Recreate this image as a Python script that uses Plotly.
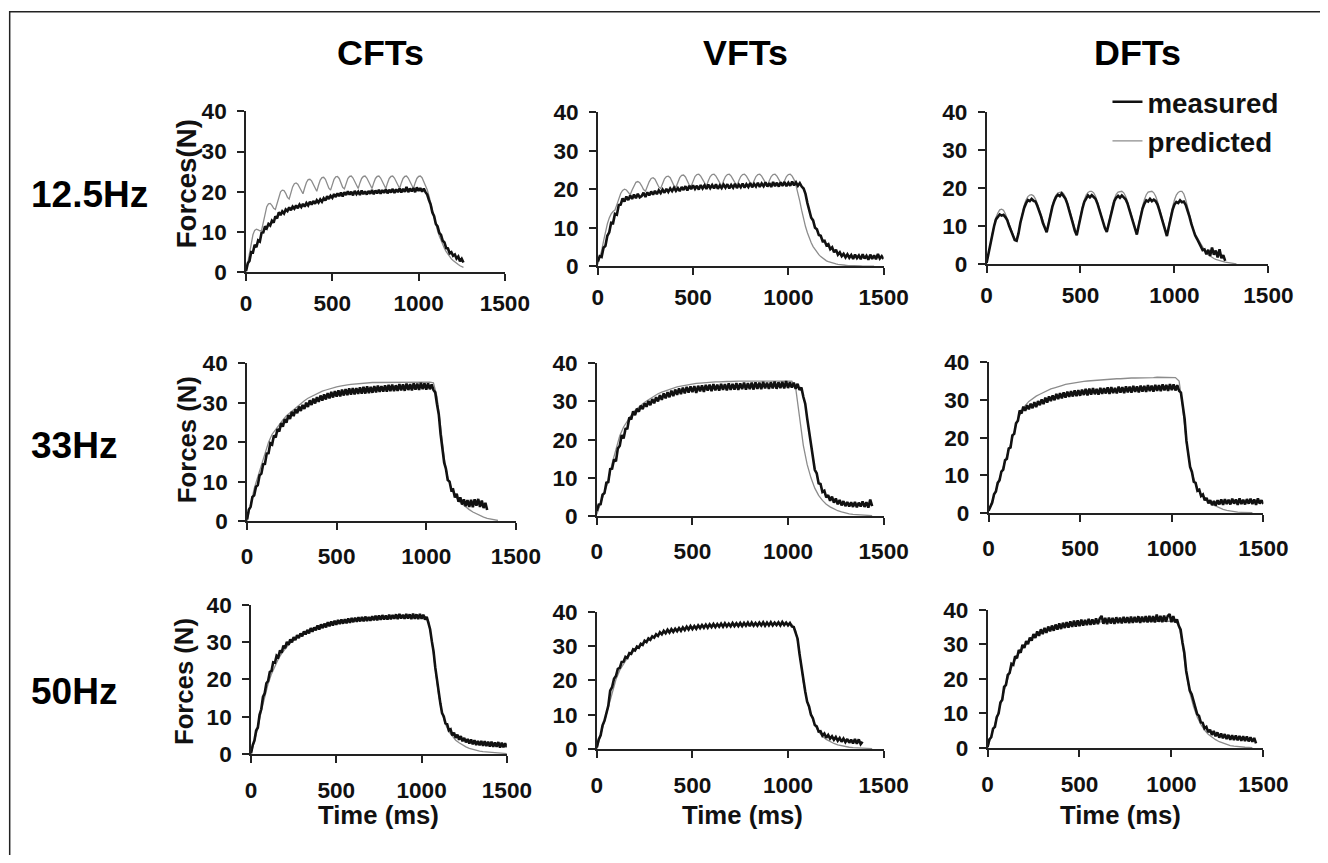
import plotly.graph_objects as go

FONT = "Liberation Sans, Arial, Helvetica, sans-serif"
PAGE_W, PAGE_H = 1328, 863
BODY_MARGIN = 8                       # default page margin around the plot div
W, H = PAGE_W - 2 * BODY_MARGIN, PAGE_H - 2 * BODY_MARGIN
# observed photo mapping (picture px = S * page px + O); positions below are given
# in picture pixels and converted back to page pixels
SX, OX = 0.977, 5.0
SY, OY = 0.971, 11.9
FS = 1 / 0.974

# ---------------- data (forces in N) ----------------
MEAS_STEP_MS = 10          # sampling of the measured traces
PRED_STEP_12HZ_MS = 10     # sampling of the 12.5 Hz predicted traces
PRED_STEP_MS = 20          # sampling of the other predicted traces

cft_12_5_measured = [
    0.3, 2.2, 2.8, 5.0, 4.9, 6.8, 6.2, 7.9, 7.6, 9.8,
    9.9, 11.4, 10.9, 12.0, 11.6, 12.8, 12.3, 13.9, 13.4, 14.9,
    14.2, 15.1, 14.6, 15.6, 15.2, 16.1, 15.4, 16.3, 15.8, 16.6,
    15.9, 16.8, 16.2, 17.0, 16.3, 17.2, 16.6, 17.5, 16.8, 17.7,
    17.0, 17.9, 17.3, 18.1, 17.5, 18.4, 17.8, 18.9, 18.2, 19.0,
    18.5, 19.4, 18.7, 19.6, 18.9, 19.8, 18.8, 19.9, 19.2, 20.1,
    19.3, 20.0, 19.1, 20.2, 19.4, 20.0, 19.2, 20.3, 19.4, 20.1,
    19.3, 20.2, 19.5, 20.4, 19.4, 20.3, 19.6, 20.5, 19.5, 20.4,
    19.7, 20.6, 19.6, 20.5, 19.8, 20.7, 19.7, 20.6, 19.9, 20.8,
    19.8, 20.7, 20.0, 21.2, 19.9, 20.8, 20.1, 20.9, 19.9, 21.1,
    20.2, 20.9, 20.0, 20.8, 19.9, 19.3, 17.9, 16.8, 14.8, 13.9,
    12.0, 11.4, 9.8, 9.3, 7.8, 7.4, 6.0, 5.9, 4.7, 5.0,
    4.1, 4.4, 3.4, 3.9, 2.7, 3.3, 2.4,
]
cft_12_5_predicted = [
    0.0, 2.5, 5.0, 7.5, 9.3, 10.4, 10.7, 10.5, 10.3, 10.4,
    12.5, 14.8, 16.3, 17.0, 17.1, 16.6, 15.9, 15.6, 17.3, 19.0,
    20.0, 20.4, 20.3, 19.6, 18.6, 18.2, 19.8, 21.2, 22.0, 22.2,
    21.9, 21.1, 20.0, 19.5, 21.0, 22.3, 23.0, 23.1, 22.7, 21.8,
    20.6, 20.1, 21.6, 22.9, 23.5, 23.6, 23.1, 22.1, 20.9, 20.4,
    21.9, 23.1, 23.7, 23.8, 23.3, 22.3, 21.1, 20.7, 22.2, 23.3,
    23.8, 23.9, 23.4, 22.5, 21.3, 20.8, 22.2, 23.3, 23.8, 23.9,
    23.4, 22.5, 21.3, 20.8, 22.2, 23.3, 23.8, 23.9, 23.4, 22.5,
    21.3, 20.8, 22.2, 23.3, 23.8, 23.9, 23.4, 22.5, 21.3, 20.8,
    22.2, 23.3, 23.8, 23.9, 23.4, 22.5, 21.3, 20.8, 22.2, 23.3,
    23.8, 23.9, 23.5, 22.6, 21.3, 20.5, 19.0, 17.2, 15.3, 13.5,
    11.8, 10.3, 9.0, 7.8, 6.8, 5.9, 5.1, 4.4, 3.8, 3.3,
    2.9, 2.5, 2.2, 1.9, 1.6, 1.4, 1.2,
]

vft_12_5_measured = [
    1.2, 2.6, 2.4, 4.8, 5.3, 7.9, 8.8, 11.3, 11.2, 13.6,
    13.4, 15.9, 16.0, 17.6, 16.8, 18.1, 17.2, 18.4, 17.5, 18.6,
    17.7, 18.8, 17.9, 18.2, 19.1, 18.0, 19.2, 18.4, 19.4, 18.6,
    19.6, 18.7, 19.7, 19.0, 19.9, 19.1, 20.1, 19.3, 20.2, 19.5,
    20.4, 19.6, 20.3, 19.5, 20.6, 19.8, 20.8, 19.7, 20.9, 20.0,
    21.0, 20.1, 20.9, 19.9, 21.1, 20.2, 21.0, 20.1, 21.2, 20.3,
    21.1, 20.2, 21.3, 20.1, 21.0, 20.3, 21.2, 20.4, 21.3, 20.2,
    21.1, 20.4, 21.4, 20.3, 21.2, 20.5, 21.5, 20.4, 21.3, 20.6,
    21.6, 20.5, 21.4, 20.7, 21.7, 20.6, 21.5, 20.8, 21.8, 20.7,
    21.6, 20.6, 21.9, 20.8, 21.7, 20.7, 21.8, 20.9, 21.9, 20.8,
    21.7, 20.9, 22.0, 21.0, 21.8, 20.9, 21.6, 20.7, 20.2, 18.8,
    16.4, 14.8, 12.6, 11.9, 10.0, 9.6, 8.1, 7.9, 6.5, 6.6,
    5.4, 5.7, 4.4, 4.9, 3.6, 4.3, 3.0, 3.6, 2.6, 3.2,
    2.3, 3.1, 2.2, 2.9, 1.9, 3.0, 2.1, 2.8, 1.8, 3.1,
    2.0, 2.7, 1.7, 3.0, 1.9, 2.8, 1.8, 3.2, 2.0, 2.6,
    1.9,
]
vft_12_5_predicted = [
    0.5, 2.0, 4.0, 6.5, 9.0, 11.0, 12.5, 13.6, 14.2, 14.6,
    16.0, 17.6, 18.9, 19.7, 20.0, 19.8, 19.2, 18.6, 19.8, 21.0,
    21.8, 22.0, 21.7, 20.9, 19.9, 19.5, 20.8, 22.0, 22.8, 23.0,
    22.6, 21.7, 20.6, 20.2, 21.5, 22.7, 23.3, 23.4, 23.0, 22.0,
    20.9, 20.5, 21.9, 23.0, 23.6, 23.7, 23.2, 22.2, 21.1, 20.8,
    22.2, 23.3, 23.8, 23.9, 23.4, 22.5, 21.3, 20.8, 22.2, 23.3,
    23.8, 23.9, 23.4, 22.5, 21.3, 20.8, 22.2, 23.3, 23.8, 23.9,
    23.4, 22.5, 21.3, 20.8, 22.2, 23.3, 23.8, 23.9, 23.4, 22.5,
    21.3, 20.8, 22.2, 23.3, 23.8, 23.9, 23.4, 22.5, 21.3, 20.8,
    22.2, 23.3, 23.8, 23.9, 23.4, 22.5, 21.3, 20.8, 22.2, 23.3,
    23.8, 23.9, 23.4, 22.5, 21.0, 19.2, 16.9, 14.5, 12.2, 10.3,
    8.7, 7.3, 6.1, 5.1, 4.3, 3.6, 3.0, 2.5, 2.1, 1.7,
    1.4, 1.2, 1.0, 0.8, 0.7, 0.6, 0.5, 0.4, 0.35, 0.3,
    0.25, 0.2, 0.2, 0.15, 0.1, 0.1, 0.1, 0.05, 0.05, 0.0,
    0.0, 0.0, 0.0, 0.0, 0.0, 0.0,
]

dft_12_5_measured = [
    0.3, 2.8, 4.6, 7.9, 10.0, 11.8, 12.6, 13.1, 12.8, 13.0, 12.4, 11.6, 10.1, 8.8, 7.6, 6.4, 6.2,
    8.1, 10.9, 13.0, 14.8, 16.0, 16.9, 16.6, 17.2, 16.7, 16.5, 15.4, 14.1, 12.6, 10.8, 9.3, 8.4,
    10.6, 13.0, 15.1, 16.6, 17.7, 18.3, 17.9, 18.6, 18.0, 17.2, 15.9, 14.3, 12.5, 10.6, 8.8, 7.6,
    10.0, 12.5, 14.6, 16.4, 17.4, 18.1, 17.6, 18.2, 17.7, 17.2, 16.0, 14.4, 12.6, 10.9, 9.5, 8.5,
    10.7, 13.0, 15.0, 16.6, 17.5, 18.0, 17.5, 18.1, 17.6, 17.1, 16.0, 14.3, 12.5, 10.7, 9.0, 7.8,
    10.2, 12.6, 14.6, 15.9, 16.8, 16.5, 17.2, 16.6, 17.0, 16.6, 15.7, 14.2, 12.4, 10.5, 8.8, 7.4,
    9.8, 12.2, 14.3, 15.7, 16.4, 16.1, 16.8, 16.3, 16.5, 15.6, 14.3, 12.5, 10.6, 9.0, 7.6, 6.7,
    5.6, 4.9, 3.7, 3.9, 2.6, 3.8, 2.2, 4.4, 2.5, 3.6, 1.8, 3.9, 1.6, 2.4, 0.9,
]
dft_12_5_predicted = [
    0.5, 2.5, 5.0, 8.0, 10.5, 12.3, 13.5, 14.3, 14.5, 14.2, 13.3, 12.0, 10.5, 9.0, 7.7, 6.6, 6.0,
    8.5, 11.2, 13.6, 15.5, 16.9, 17.8, 18.2, 18.3, 18.0, 17.2, 16.0, 14.5, 12.8, 11.0, 9.6, 8.6,
    11.0, 13.4, 15.5, 17.1, 18.2, 18.8, 19.0, 19.0, 18.6, 17.7, 16.3, 14.6, 12.7, 10.8, 9.0, 7.7,
    10.3, 12.9, 15.1, 16.9, 18.2, 18.9, 19.2, 19.2, 18.8, 17.9, 16.5, 14.8, 12.9, 11.1, 9.6, 8.6,
    11.0, 13.4, 15.5, 17.2, 18.4, 19.0, 19.2, 19.2, 18.8, 17.9, 16.5, 14.7, 12.8, 10.9, 9.2, 8.0,
    10.6, 13.1, 15.3, 17.0, 18.3, 19.0, 19.2, 19.2, 18.8, 17.9, 16.5, 14.7, 12.7, 10.8, 8.9, 7.5,
    10.2, 12.8, 15.1, 16.9, 18.2, 18.9, 19.2, 19.2, 18.5, 17.0, 15.0, 12.8, 10.6, 9.2, 8.0, 7.0,
    6.2, 5.4, 4.6, 3.6, 3.0, 2.5, 2.1, 1.8, 1.5, 1.3, 1.1, 0.9, 0.8, 0.7, 0.55, 0.45,
    0.35, 0.3, 0.2, 0.15, 0.1,
]

cft_33_measured = [
    0.4, 2.9, 3.6, 6.1, 6.5, 8.7, 9.1, 11.6, 12.0, 14.4,
    14.5, 17.1, 17.2, 19.7, 19.4, 21.7, 21.2, 23.3, 22.7, 24.8,
    23.9, 25.8, 24.9, 26.8, 25.9, 27.7, 26.6, 28.3, 27.3, 29.0,
    27.9, 29.4, 28.4, 30.0, 28.9, 30.6, 29.4, 31.0, 29.8, 31.4,
    30.2, 31.8, 30.5, 32.1, 30.8, 32.4, 31.1, 32.7, 31.3, 32.9,
    31.5, 33.1, 31.6, 33.3, 31.8, 33.4, 31.9, 33.6, 32.0, 33.7,
    32.1, 33.7, 32.2, 33.9, 32.3, 34.0, 32.3, 34.1, 32.4, 34.0,
    32.5, 34.2, 32.6, 34.3, 32.7, 34.2, 32.8, 34.4, 32.8, 34.5,
    32.9, 34.6, 32.9, 34.4, 33.0, 34.7, 33.1, 34.6, 33.0, 34.8,
    33.2, 34.7, 33.1, 34.9, 33.3, 34.8, 33.2, 35.0, 33.4, 34.9,
    33.3, 34.9, 33.4, 34.6, 33.2, 32.6, 29.6, 27.0, 22.0, 19.0,
    14.8, 13.2, 10.4, 10.0, 7.8, 8.0, 6.0, 6.9, 4.9, 6.0,
    4.2, 5.5, 3.8, 5.3, 3.6, 5.4, 3.5, 5.5, 3.9, 5.6,
    3.6, 5.2, 3.3, 4.6, 2.8,
]
cft_33_predicted = [
    0.0, 4.0, 8.2, 11.2, 14.0, 17.0, 20.0, 22.0, 23.3, 24.5,
    25.6, 26.7, 27.5, 28.3, 29.1, 29.8, 30.5, 31.1, 31.6, 32.1,
    32.5, 32.9, 33.2, 33.5, 33.8, 34.0, 34.2, 34.4, 34.5, 34.6,
    34.7, 34.8, 34.9, 35.0, 35.0, 35.1, 35.1, 35.1, 35.2, 35.2,
    35.2, 35.2, 35.2, 35.2, 35.2, 35.2, 35.2, 35.2, 35.2, 35.2,
    35.2, 35.2, 35.0, 31.5, 24.0, 16.0, 11.0, 8.3, 6.5, 5.2,
    4.3, 3.5, 2.9, 2.3, 1.8, 1.4, 1.0, 0.7, 0.5, 0.3,
    0.15,
]

vft_33_measured = [
    1.3, 3.0, 3.1, 5.6, 6.0, 8.7, 8.9, 12.3, 12.4, 14.8,
    14.3, 17.7, 18.4, 21.2, 20.3, 22.8, 22.9, 25.8, 25.3, 27.4,
    26.4, 28.1, 27.3, 28.9, 28.0, 29.5, 28.6, 30.1, 29.0, 30.6,
    29.5, 31.1, 30.0, 31.6, 30.4, 32.1, 30.8, 32.4, 31.1, 32.8,
    31.4, 33.1, 31.7, 33.4, 31.9, 33.6, 32.1, 33.8, 32.3, 33.9,
    32.4, 34.0, 32.2, 34.1, 32.6, 34.2, 32.5, 34.3, 32.8, 34.4,
    32.7, 34.5, 32.9, 34.4, 32.8, 34.6, 33.0, 34.5, 32.9, 34.7,
    33.0, 34.6, 33.1, 34.8, 33.0, 34.7, 33.2, 34.9, 33.1, 34.8,
    33.2, 34.9, 33.1, 35.0, 33.3, 34.9, 33.2, 35.1, 33.4, 34.9,
    33.3, 35.0, 33.4, 35.2, 33.3, 35.0, 33.5, 35.1, 33.4, 35.3,
    33.5, 35.0, 33.6, 34.9, 33.3, 34.6, 33.0, 33.6, 31.2, 29.4,
    25.6, 22.4, 18.0, 15.6, 12.1, 11.2, 8.6, 8.4, 6.3, 6.6,
    4.9, 5.5, 4.0, 5.1, 3.5, 4.6, 3.1, 4.2, 2.8, 3.9,
    2.6, 3.7, 2.5, 3.6, 2.4, 3.7, 2.3, 3.5, 2.5, 3.8,
    2.4, 3.6, 2.2, 4.3, 2.6,
]
vft_33_predicted = [
    0.5, 3.5, 6.0, 9.0, 13.8, 17.7, 21.0, 23.3, 25.0, 26.4,
    27.6, 28.6, 29.4, 30.1, 30.8, 31.4, 32.0, 32.4, 32.8, 33.2,
    33.5, 33.8, 34.0, 34.2, 34.4, 34.5, 34.7, 34.8, 34.9, 35.0,
    35.0, 35.1, 35.1, 35.2, 35.2, 35.2, 35.3, 35.3, 35.3, 35.3,
    35.3, 35.3, 35.3, 35.3, 35.3, 35.3, 35.3, 35.3, 35.3, 35.3,
    35.3, 35.3, 33.5, 26.5, 18.5, 13.5, 10.0, 7.3, 5.4, 4.1,
    3.1, 2.4, 1.8, 1.4, 1.1, 0.8, 0.6, 0.45, 0.35, 0.25,
    0.2, 0.15, 0.1,
]

dft_33_measured = [
    0.6, 1.9, 2.8, 5.0, 5.7, 8.0, 8.7, 11.0, 11.5, 14.0,
    14.4, 17.1, 17.4, 20.6, 21.0, 23.8, 24.5, 27.2, 26.4, 28.2,
    27.1, 28.6, 27.5, 29.0, 27.8, 29.4, 28.1, 29.7, 28.6, 30.1,
    28.9, 30.6, 29.3, 30.9, 29.7, 31.2, 29.9, 31.6, 30.2, 31.8,
    30.4, 32.0, 30.6, 32.2, 30.8, 32.3, 30.9, 32.5, 31.0, 32.6,
    31.1, 32.7, 31.3, 32.9, 31.2, 33.0, 31.4, 33.1, 31.5, 32.9,
    31.4, 33.2, 31.6, 33.1, 31.7, 33.3, 31.6, 33.4, 31.8, 33.2,
    31.7, 33.5, 31.9, 33.4, 31.8, 33.6, 32.0, 33.5, 31.9, 33.7,
    32.1, 33.6, 32.0, 33.8, 32.2, 33.7, 32.1, 33.9, 32.3, 33.8,
    32.2, 34.0, 32.4, 33.9, 32.3, 34.1, 32.5, 34.0, 32.4, 34.2,
    32.6, 34.1, 32.5, 33.9, 32.4, 31.9, 28.2, 25.0, 19.2, 16.0,
    12.2, 10.9, 8.3, 8.0, 5.9, 6.2, 4.5, 4.9, 3.4, 4.0,
    2.6, 3.4, 2.1, 3.2, 2.0, 3.4, 2.3, 3.6, 2.2, 3.7,
    2.4, 3.5, 2.3, 3.8, 2.5, 3.6, 2.2, 3.9, 2.4, 3.5,
    2.3, 3.7, 2.5, 3.8, 2.4, 3.6, 2.2, 3.9, 2.5, 3.4,
    2.4,
]
dft_33_predicted = [
    0.5, 3.0, 6.0, 9.3, 12.0, 15.2, 18.2, 21.5, 24.8, 26.9,
    28.5, 29.6, 30.4, 31.0, 31.5, 32.0, 32.5, 32.9, 33.2, 33.6,
    33.8, 34.1, 34.3, 34.5, 34.7, 34.8, 34.9, 35.0, 35.1, 35.2,
    35.3, 35.3, 35.4, 35.5, 35.5, 35.6, 35.6, 35.7, 35.7, 35.8,
    35.8, 35.8, 35.9, 35.9, 35.9, 35.9, 36.0, 36.0, 36.0, 36.0,
    36.0, 35.9, 35.0, 28.0, 18.5, 12.5, 9.2, 6.6, 4.9, 3.9,
    3.0, 2.3, 1.8, 1.3, 1.0, 0.7, 0.5, 0.35, 0.25, 0.2,
    0.15, 0.1, 0.1,
]

cft_50_measured = [
    0.2, 2.4, 3.6, 6.3, 7.1, 10.5, 12.0, 15.3, 16.3, 19.0,
    19.6, 22.0, 22.3, 24.6, 24.5, 26.4, 26.0, 27.8, 27.2, 29.1,
    28.4, 30.1, 29.3, 30.8, 30.0, 31.4, 30.6, 31.9, 31.1, 32.4,
    31.6, 32.9, 32.1, 33.3, 32.4, 33.8, 32.8, 34.0, 33.2, 34.5,
    33.4, 34.8, 33.8, 35.0, 34.0, 35.4, 34.3, 35.6, 34.5, 35.8,
    34.7, 36.0, 34.9, 36.1, 35.0, 36.2, 35.1, 36.4, 35.2, 36.5,
    35.4, 36.6, 35.5, 36.7, 35.6, 36.8, 35.6, 36.9, 35.7, 36.8,
    35.8, 37.0, 35.9, 37.1, 35.9, 37.2, 36.0, 37.3, 36.1, 37.2,
    36.1, 37.4, 36.2, 37.3, 36.3, 37.5, 36.2, 37.6, 36.4, 37.4,
    36.3, 37.6, 36.4, 37.5, 36.2, 37.7, 36.3, 37.5, 36.2, 37.6,
    36.3, 37.4, 36.1, 36.8, 35.2, 33.5, 30.3, 27.6, 23.3, 19.8,
    15.8, 13.6, 11.0, 10.1, 8.2, 8.0, 6.3, 6.6, 5.0, 5.7,
    4.3, 5.2, 3.8, 4.8, 3.4, 4.3, 3.1, 4.0, 2.8, 3.9,
    2.6, 3.7, 2.4, 3.5, 2.3, 3.5, 2.2, 3.4, 2.1, 3.3,
    2.0, 3.3, 1.9, 3.1, 1.9, 3.2, 1.7, 3.0, 1.8, 2.9,
    1.8,
]
cft_50_predicted = [
    0.0, 3.5, 7.0, 11.5, 15.5, 18.8, 21.5, 23.7, 25.5, 27.0,
    28.2, 29.3, 30.2, 31.0, 31.7, 32.3, 32.8, 33.3, 33.7, 34.1,
    34.4, 34.7, 35.0, 35.2, 35.4, 35.6, 35.8, 35.9, 36.0, 36.1,
    36.2, 36.3, 36.4, 36.5, 36.6, 36.6, 36.7, 36.7, 36.8, 36.8,
    36.8, 36.9, 36.9, 36.9, 36.9, 37.0, 37.0, 37.0, 37.0, 37.0,
    37.0, 37.0, 35.8, 30.5, 23.0, 15.8, 11.0, 8.0, 6.0, 4.7,
    3.7, 3.0, 2.4, 1.9, 1.5, 1.2, 0.95, 0.75, 0.6, 0.5,
    0.4, 0.3, 0.25, 0.2, 0.15, 0.1,
]

vft_50_measured = [
    0.4, 2.8, 4.0, 6.9, 8.2, 10.9, 12.6, 17.0, 18.1, 20.5,
    21.3, 23.4, 23.7, 25.4, 25.5, 26.9, 26.6, 28.0, 27.8, 29.1,
    28.8, 29.9, 29.6, 30.7, 30.4, 31.6, 31.2, 32.3, 31.9, 32.9,
    32.5, 33.5, 33.0, 34.1, 33.5, 34.5, 33.8, 34.8, 34.0, 35.0,
    34.2, 35.1, 34.4, 35.3, 34.5, 35.5, 34.7, 35.7, 34.9, 35.9,
    35.0, 35.9, 35.1, 36.1, 35.3, 36.2, 35.4, 36.3, 35.4, 36.4,
    35.6, 36.5, 35.6, 36.5, 35.7, 36.6, 35.7, 36.7, 35.8, 36.6,
    35.8, 36.8, 35.9, 36.7, 35.9, 36.8, 35.9, 36.8, 36.0, 36.9,
    35.9, 36.9, 36.0, 36.8, 36.0, 36.9, 36.1, 37.0, 36.0, 36.9,
    36.1, 37.0, 36.1, 36.9, 36.2, 37.0, 36.1, 37.1, 36.2, 36.9,
    36.1, 36.8, 35.8, 35.6, 34.0, 32.2, 27.8, 23.8, 19.3, 16.8,
    13.8, 12.4, 10.0, 9.0, 7.0, 6.6, 5.1, 5.2, 3.9, 4.5,
    3.3, 4.1, 3.0, 3.7, 2.7, 3.5, 2.4, 3.2, 2.1, 3.0,
    2.0, 2.9, 1.8, 2.7, 1.6, 2.9, 1.5, 2.8, 1.4, 2.1,
]
vft_50_predicted = [
    0.0, 4.0, 8.0, 12.0, 16.5, 20.3, 23.0, 25.0, 26.6, 27.9,
    29.0, 30.0, 30.9, 31.6, 32.3, 32.9, 33.4, 33.8, 34.2, 34.5,
    34.8, 35.0, 35.2, 35.4, 35.6, 35.7, 35.8, 35.9, 36.0, 36.1,
    36.2, 36.2, 36.3, 36.3, 36.4, 36.4, 36.4, 36.5, 36.5, 36.5,
    36.5, 36.5, 36.6, 36.6, 36.6, 36.6, 36.6, 36.6, 36.6, 36.6,
    36.6, 36.4, 34.5, 28.5, 19.5, 14.0, 10.0, 7.0, 5.0, 3.7,
    2.8, 2.1, 1.6, 1.2, 0.9, 0.7, 0.5, 0.4, 0.3, 0.25,
    0.2, 0.15, 0.1,
]

dft_50_measured = [
    0.3, 2.5, 3.1, 5.6, 6.1, 8.9, 10.0, 13.2, 14.0, 17.7,
    18.3, 21.2, 21.8, 24.4, 24.1, 26.6, 26.0, 28.4, 27.6, 29.9,
    29.0, 31.0, 30.1, 32.0, 31.1, 33.0, 31.9, 33.8, 32.5, 34.4,
    33.0, 34.8, 33.4, 35.2, 33.8, 35.5, 34.0, 35.8, 34.3, 36.1,
    34.5, 36.3, 34.8, 36.5, 34.9, 36.7, 35.1, 36.9, 35.2, 37.0,
    35.3, 37.2, 35.5, 37.1, 35.6, 37.4, 35.7, 37.3, 35.8, 37.6,
    35.9, 37.5, 38.3, 36.0, 37.7, 35.9, 37.8, 36.1, 37.7, 36.0,
    37.9, 36.2, 37.8, 36.1, 38.0, 36.3, 37.9, 36.2, 38.1, 36.3,
    38.0, 36.4, 38.2, 36.3, 38.1, 36.5, 38.2, 36.4, 38.3, 36.5,
    38.2, 36.4, 38.7, 36.6, 38.3, 36.5, 38.4, 36.6, 38.3, 38.8,
    36.5, 38.2, 36.4, 37.3, 35.4, 34.3, 30.6, 27.6, 22.4, 19.7,
    16.6, 15.6, 13.6, 12.3, 9.8, 9.3, 7.4, 7.3, 5.7, 6.1,
    4.6, 5.3, 3.8, 4.9, 3.4, 4.5, 3.0, 4.2, 2.8, 4.0,
    2.6, 3.8, 2.4, 3.7, 2.3, 3.6, 2.2, 3.5, 2.1, 3.4,
    2.0, 3.3, 1.9, 3.1, 1.8, 2.9, 1.3,
]
dft_50_predicted = [
    0.0, 3.5, 6.8, 10.5, 14.6, 18.5, 21.8, 24.5, 26.6, 28.2,
    29.6, 30.8, 31.8, 32.6, 33.3, 33.8, 34.2, 34.6, 34.9, 35.2,
    35.4, 35.6, 35.8, 35.9, 36.0, 36.1, 36.2, 36.3, 36.4, 36.5,
    36.5, 36.6, 36.6, 36.7, 36.7, 36.7, 36.8, 36.8, 36.8, 36.8,
    36.9, 36.9, 36.9, 36.9, 36.9, 36.9, 36.9, 36.9, 36.9, 36.9,
    36.9, 36.8, 35.5, 30.0, 22.0, 16.0, 12.0, 9.0, 6.8, 5.2,
    4.0, 3.1, 2.4, 1.8, 1.4, 1.0, 0.7, 0.5, 0.35, 0.25,
    0.2, 0.15, 0.1,
]

column_titles = ["CFTs", "VFTs", "DFTs"]
row_titles = ["12.5Hz", "33Hz", "50Hz"]
y_titles = ["Forces(N)", "Forces (N)", "Forces (N)"]
x_title = "Time (ms)"
series_names = ["measured", "predicted"]
x_ticks = [0, 500, 1000, 1500]
y_ticks = [0, 10, 20, 30, 40]
x_range = [0, 1500]
y_range = [0, 40]

# (row, col) -> measured, predicted, predicted sampling step
panels = [
    (0, 0, cft_12_5_measured, cft_12_5_predicted, PRED_STEP_12HZ_MS),
    (0, 1, vft_12_5_measured, vft_12_5_predicted, PRED_STEP_12HZ_MS),
    (0, 2, dft_12_5_measured, dft_12_5_predicted, PRED_STEP_12HZ_MS),
    (1, 0, cft_33_measured, cft_33_predicted, PRED_STEP_MS),
    (1, 1, vft_33_measured, vft_33_predicted, PRED_STEP_MS),
    (1, 2, dft_33_measured, dft_33_predicted, PRED_STEP_MS),
    (2, 0, cft_50_measured, cft_50_predicted, PRED_STEP_MS),
    (2, 1, vft_50_measured, vft_50_predicted, PRED_STEP_MS),
    (2, 2, dft_50_measured, dft_50_predicted, PRED_STEP_MS),
]

# ---------------- layout geometry (picture pixels) ----------------
# plot boxes: left, right, top, bottom
boxes = {
    (0, 0): (245, 504, 111, 272), (0, 1): (597, 883, 112, 266), (0, 2): (986, 1268, 112, 264),
    (1, 0): (246, 515, 363, 521), (1, 1): (596, 883, 363, 516), (1, 2): (988, 1263, 362, 513),
    (2, 0): (250, 506, 605, 754), (2, 1): (596, 883, 612, 749), (2, 2): (987, 1263, 610, 748),
}
row_tick_standoff = [3, 7, 8]
col_title_x = [380, 745, 1137]
col_title_y = 53
row_title_x = 28
row_title_y = [194, 445, 692]
y_title_pos = [(185, 184, 27), (186, 440, 25), (183, 682, 25)]
x_title_x = [378, 742, 1120]
x_title_y = 815
legend_x, legend_y = 1107, 77

MEAS_COLOR = "#111111"
PRED_COLOR = "#8c8c8c"
AXIS_COLOR = "#222222"


def px(x):
    return ((x - OX) / SX - BODY_MARGIN) / W


def py(y):
    return 1 - ((y - OY) / SY - BODY_MARGIN) / H


def fs(size):
    return round(size * FS, 1)


fig = go.Figure()
layout_axes = {}
tickfont = dict(family=FONT, size=fs(22), color="#111111", weight="bold")
for i, (r, c, meas, pred, pstep) in enumerate(panels):
    n = i + 1
    suffix = "" if n == 1 else str(n)
    t_meas = [k * MEAS_STEP_MS for k in range(len(meas))]
    t_pred = [k * pstep for k in range(len(pred))]
    fig.add_trace(go.Scatter(
        x=t_pred, y=pred, mode="lines", name=series_names[1],
        line=dict(color=PRED_COLOR, width=1.3), legendrank=2,
        showlegend=(n == 3), xaxis="x" + suffix, yaxis="y" + suffix,
        hoverinfo="skip"))
    fig.add_trace(go.Scatter(
        x=t_meas, y=meas, mode="lines", name=series_names[0],
        line=dict(color=MEAS_COLOR, width=2.6), legendrank=1,
        showlegend=(n == 3), xaxis="x" + suffix, yaxis="y" + suffix,
        hoverinfo="skip"))
    left, right, top, bottom = boxes[(r, c)]
    layout_axes["xaxis" + suffix] = dict(
        domain=[px(left), px(right)], anchor="y" + suffix, range=x_range,
        tickvals=x_ticks, ticks="outside", ticklen=7, tickwidth=1.5,
        tickcolor=AXIS_COLOR, showline=True, linecolor=AXIS_COLOR, linewidth=1.5,
        showgrid=False, zeroline=False, tickfont=tickfont,
        ticklabelstandoff=row_tick_standoff[r], fixedrange=True)
    layout_axes["yaxis" + suffix] = dict(
        domain=[py(bottom), py(top)], anchor="x" + suffix, range=y_range,
        tickvals=y_ticks, ticks="outside", ticklen=7, tickwidth=1.5,
        tickcolor=AXIS_COLOR, showline=True, linecolor=AXIS_COLOR, linewidth=1.5,
        showgrid=False, zeroline=False, tickfont=tickfont, ticklabelstandoff=6,
        fixedrange=True)

annotations = []
for j, title in enumerate(column_titles):
    annotations.append(dict(
        text=title, x=px(col_title_x[j]), y=py(col_title_y), xref="paper", yref="paper",
        xanchor="center", yanchor="middle", showarrow=False,
        font=dict(family=FONT, size=fs(35), color="#000", weight="bold")))
for j, title in enumerate(row_titles):
    annotations.append(dict(
        text=title, x=px(row_title_x), y=py(row_title_y[j]), xref="paper", yref="paper",
        xanchor="left", yanchor="middle", showarrow=False,
        font=dict(family=FONT, size=fs(36), color="#000", weight="bold")))
for j, title in enumerate(y_titles):
    xx, yy, size = y_title_pos[j]
    annotations.append(dict(
        text=title, x=px(xx), y=py(yy), xref="paper", yref="paper",
        xanchor="center", yanchor="middle", showarrow=False, textangle=-90,
        font=dict(family=FONT, size=fs(size), color="#111", weight="bold")))
for j in range(3):
    annotations.append(dict(
        text=x_title, x=px(x_title_x[j]), y=py(x_title_y), xref="paper", yref="paper",
        xanchor="center", yanchor="middle", showarrow=False,
        font=dict(family=FONT, size=fs(25), color="#111", weight="bold")))

# figure frame: top and left edges; the others lie outside the picture
frame_path = "M {l},{b} L {l},{t} L {r},{t}".format(
    l=px(8.5), t=py(11.5), r=px(1345), b=py(880))

fig.update_layout(
    width=W, height=H, autosize=False,
    margin=dict(l=0, r=0, t=0, b=0, pad=0),
    paper_bgcolor="white", plot_bgcolor="white",
    showlegend=True,
    legend=dict(x=px(legend_x), y=py(legend_y), xanchor="left", yanchor="top",
                bgcolor="rgba(0,0,0,0)", borderwidth=0, itemwidth=30,
                tracegroupgap=0,
                font=dict(family=FONT, size=fs(27), color="#111", weight="bold")),
    annotations=annotations,
    shapes=[dict(type="path", xref="paper", yref="paper", path=frame_path,
                 line=dict(color="#222", width=1.5), fillcolor="rgba(0,0,0,0)")],
    **layout_axes,
)

fig.write_html("out.html", config={"displayModeBar": False})
